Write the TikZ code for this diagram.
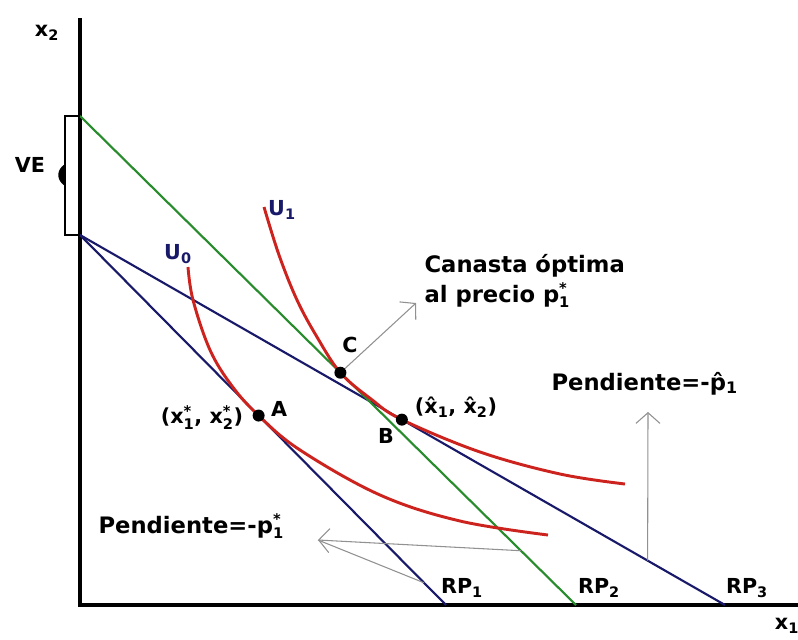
\documentclass[tikz,border=0pt]{standalone}
\usepackage{fontspec}
\setmainfont{DejaVu Sans}
\usetikzlibrary{calc,arrows.meta}

\definecolor{azul}{RGB}{25,25,105}
\definecolor{verde}{RGB}{40,140,45}
\definecolor{rojo}{RGB}{205,35,30}
\definecolor{gris}{RGB}{145,145,145}

\newcommand{\idx}[1]{\textsubscript{#1}}
\newcommand{\supsub}[2]{\ensuremath{^{\mbox{\fontsize{11}{11}\selectfont #1}}_{\mbox{\fontsize{11}{11}\selectfont #2}}}}

\begin{document}
\begin{tikzpicture}[
    x=0.75pt, y=-0.75pt,
    every node/.style={font=\bfseries\fontsize{15.5}{18}\selectfont, inner sep=1pt},
    eje/.style={line width=2.5pt},
    recta/.style={line width=1.6pt},
    curva/.style={rojo, line width=2.2pt},
    flecha/.style={gris, line width=0.8pt, -{Straight Barb[length=8pt,width=18pt]}},
    punto/.style={circle, fill=black, inner sep=0pt, minimum size=9pt},
    texto/.style={font=\bfseries\fontsize{17}{21}\selectfont, anchor=base west},
]
\useasboundingbox (0,0) rectangle (798,639);

% Ejes
\coordinate (O) at (80,605);
\coordinate (ytop) at (80,18);
\coordinate (xend) at (798,605);
\draw[eje] (ytop) -- (O) -- (xend);

% Rectas presupuestarias
\coordinate (Q1) at (80,235);
\coordinate (Q2) at (80,116);
\coordinate (R1) at (446,605);
\coordinate (R2) at (576,605);
\coordinate (R3) at (725,605);
\draw[recta, azul] (Q1) -- (R1);
\draw[recta, azul] (Q1) -- (R3);
\draw[recta, verde] (Q2) -- (R2);

% Puntos de tangencia
\coordinate (A) at ($(Q1)!0.488!(R1)$);
\coordinate (B) at ($(Q1)!0.499!(R3)$);
\coordinate (C) at ($(Q2)!0.525!(R2)$);

% Curvas de indiferencia
\draw[curva] plot[smooth, tension=0.6] coordinates {(188,267) (193,300) (210,350) (232,386) (A) (300,450) (380,495) (460,521) (548,535)};
\draw[curva] plot[smooth, tension=0.6] coordinates {(264,207) (279,255) (297,300) (317,337) (C) (371,399) (B) (480,452) (560,474) (625,484)};

% VE
\draw[line width=1pt] (Q2) -- ++(-15,0) |- (Q1);
\fill (65,164) .. controls (56,170) and (56,180) .. (65,186) -- cycle;
\node (ve) at (30,165) {VE};

% Flechas
\coordinate (fc) at (416,303);
\draw[flecha] (C) -- (fc);
\coordinate (v0) at ($(Q1)!0.88!(R3)$);
\coordinate (v1) at (648,412);
\draw[flecha] (v0) -- (v1);
\coordinate (tp) at (318,540);
\coordinate (h0) at ($(Q2)!0.889!(R2)$);
\coordinate (d0) at ($(Q1)!0.94!(R1)$);
\draw[flecha] (h0) -- (tp);
\draw[gris, line width=0.8pt] (d0) -- (tp);

\node[punto] (pa) at (A) {};
\node[punto] (pb) at (B) {};
\node[punto] (pc) at (C) {};

% Etiquetas
\node (ejey) at (47,33) {x\idx{2}};
\node (ejex) at (787,626) {x\idx{1}};
\node[azul] (u0) at (178,254) {U\idx{0}};
\node[azul] (u1) at (282,210) {U\idx{1}};
\node (la) at (279,409) {A};
\node (lb) at (386,436) {B};
\node (lc) at (350,345) {C};
\node (xast) at (202,418) {(x\supsub{*}{1}, x\supsub{*}{2})};
\node (xgorro) at (456,407) {(\^{x}\idx{1}, \^{x}\idx{2})};
\node (rp1) at (462,588) {RP\idx{1}};
\node (rp2) at (599,588) {RP\idx{2}};
\node (rp3) at (747,588) {RP\idx{3}};

\node[texto] (canasta) at (423,272) {Canasta óptima};
\node[texto] (precio) at (423,302) {al precio p\supsub{*}{1}};
\node[texto] (pend1) at (550,390) {Pendiente=-\^{p}\idx{1}};
\node[texto] (pend2) at (97,533) {Pendiente=-p\supsub{*}{1}};

\end{tikzpicture}
\end{document}
